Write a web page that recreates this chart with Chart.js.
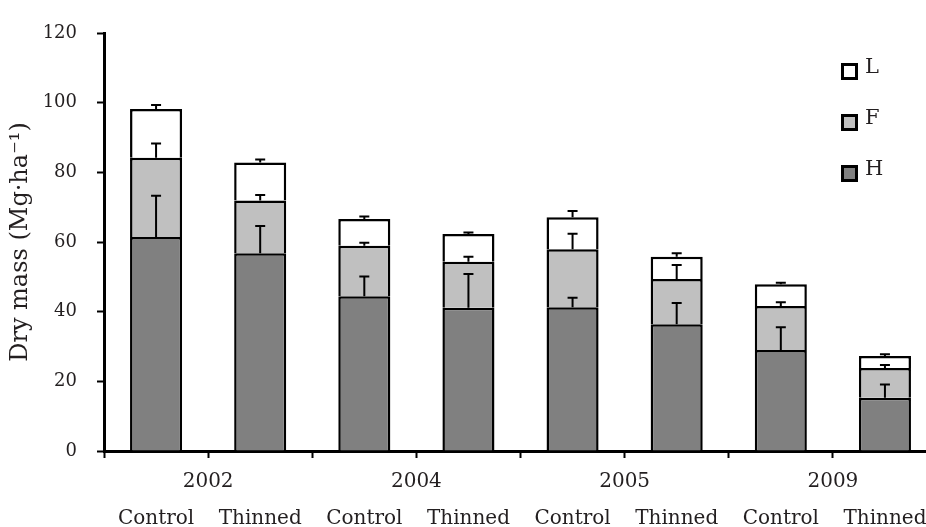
<!DOCTYPE html>
<html>
<head>
<meta charset="utf-8">
<script src="https://cdn.jsdelivr.net/npm/chart.js@4.4.1/dist/chart.umd.min.js"></script>
<style>
  html, body { margin: 0; padding: 0; background: #fff; overflow: hidden; }
</style>
</head>
<body>
<canvas id="myChart" width="937" height="527"></canvas>
<script>
// categories
const treatments = ['Control', 'Thinned', 'Control', 'Thinned', 'Control', 'Thinned', 'Control', 'Thinned'];
const years = ['2002', '2004', '2005', '2009'];

// layer masses (Mg/ha), stacked H -> F -> L
const hValues = [61.4, 56.8, 44.4, 41.1, 41.3, 36.4, 29.0, 15.3];
const fValues = [22.8, 15.1, 14.5, 13.2, 16.6, 13.0, 12.6, 8.5];
const lValues = [14.0, 10.9, 7.7, 8.0, 9.2, 6.4, 6.3, 3.5];

// upper error bars
const hErrors = [11.9, 7.8, 5.7, 9.7, 2.7, 6.1, 6.5, 3.8];
const fErrors = [4.1, 1.6, 0.9, 1.5, 4.5, 4.0, 1.1, 0.9];
const lErrors = [1.1, 0.9, 0.7, 0.4, 1.8, 1.0, 0.4, 0.5];

// y ticks
const yMin = 0;
const yMax = 120;
const yStep = 20;

const serif = 'DejaVu Serif';
const textColor = '#231f20';

const errorBars = {
  id: 'errorBars',
  afterDatasetsDraw(chart) {
    const ctx = chart.ctx;
    const yScale = chart.scales.y;
    const totals = new Array(treatments.length).fill(0);
    ctx.save();
    ctx.strokeStyle = '#000';
    ctx.lineWidth = 2;
    chart.data.datasets.forEach((ds, d) => {
      const meta = chart.getDatasetMeta(d);
      meta.data.forEach((bar, i) => {
        totals[i] += ds.data[i];
        const y0 = yScale.getPixelForValue(totals[i]);
        const y1 = yScale.getPixelForValue(totals[i] + ds.errors[i]);
        ctx.beginPath();
        ctx.moveTo(bar.x, y0);
        ctx.lineTo(bar.x, y1);
        ctx.moveTo(bar.x - 5, y1);
        ctx.lineTo(bar.x + 5, y1);
        ctx.stroke();
      });
    });
    ctx.restore();
  }
};

const boxLegend = {
  id: 'boxLegend',
  afterDraw(chart) {
    const ctx = chart.ctx;
    const datasets = chart.data.datasets.slice().reverse();
    ctx.save();
    ctx.font = '21px "' + serif + '"';
    ctx.textBaseline = 'alphabetic';
    ctx.textAlign = 'left';
    datasets.forEach((ds, k) => {
      const top = 63 + k * 51;
      ctx.fillStyle = ds.backgroundColor;
      ctx.fillRect(841, top, 17, 17);
      ctx.strokeStyle = '#000';
      ctx.lineWidth = 3;
      ctx.strokeRect(842.5, top + 1.5, 14, 14);
      ctx.fillStyle = textColor;
      ctx.fillText(ds.label, 865, top + 10);
    });
    ctx.restore();
  }
};

const ctx = document.getElementById('myChart');

new Chart(ctx, {
  type: 'bar',
  data: {
    labels: treatments,
    datasets: [
      { label: 'H', data: hValues, errors: hErrors, backgroundColor: '#808080' },
      { label: 'F', data: fValues, errors: fErrors, backgroundColor: '#c0c0c0' },
      { label: 'L', data: lValues, errors: lErrors, backgroundColor: '#ffffff' }
    ]
  },
  options: {
    responsive: false,
    animation: false,
    devicePixelRatio: 1,
    layout: { padding: { top: 33, left: 0, right: 0, bottom: 0 } },
    datasets: {
      bar: {
        borderColor: '#000',
        borderWidth: 2.5,
        categoryPercentage: 1,
        barPercentage: 0.5
      }
    },
    plugins: {
      legend: { display: false },
      tooltip: { enabled: false }
    },
    scales: {
      x: {
        stacked: true,
        offset: true,
        weight: 0,
        ticks: { display: false },
        grid: {
          display: true,
          drawOnChartArea: false,
          offset: true,
          tickLength: 7,
          tickWidth: 2,
          color: '#000'
        },
        border: { display: true, color: '#000', width: 3 },
        afterFit(scale) { scale.height = 10; }
      },
      xYear: {
        type: 'category',
        labels: years,
        position: 'bottom',
        offset: true,
        weight: 1,
        grid: { display: false },
        border: { display: false },
        ticks: {
          color: textColor,
          padding: 1,
          font: { family: serif, size: 20 }
        },
        afterFit(scale) { scale.height = 30; }
      },
      xTreat: {
        type: 'category',
        labels: treatments,
        position: 'bottom',
        offset: true,
        weight: 2,
        grid: { display: false },
        border: { display: false },
        ticks: {
          color: textColor,
          padding: 8,
          autoSkip: false,
          maxRotation: 0,
          font: { family: serif, size: 20 }
        },
        afterFit(scale) { scale.height = 36; }
      },
      y: {
        stacked: true,
        min: yMin,
        max: yMax,
        ticks: {
          stepSize: yStep,
          color: textColor,
          padding: 20,
          font: { family: serif, size: 18 }
        },
        grid: {
          display: true,
          drawOnChartArea: false,
          tickLength: 7,
          tickWidth: 2,
          color: '#000'
        },
        border: { display: true, color: '#000', width: 3 },
        title: {
          display: true,
          text: 'Dry mass (Mg·ha⁻¹)',
          color: textColor,
          padding: { top: 6, bottom: 0 },
          font: { family: serif, size: 24 }
        },
        afterFit(scale) { scale.width = 104; }
      }
    }
  },
  plugins: [errorBars, boxLegend]
});
</script>
</body>
</html>
